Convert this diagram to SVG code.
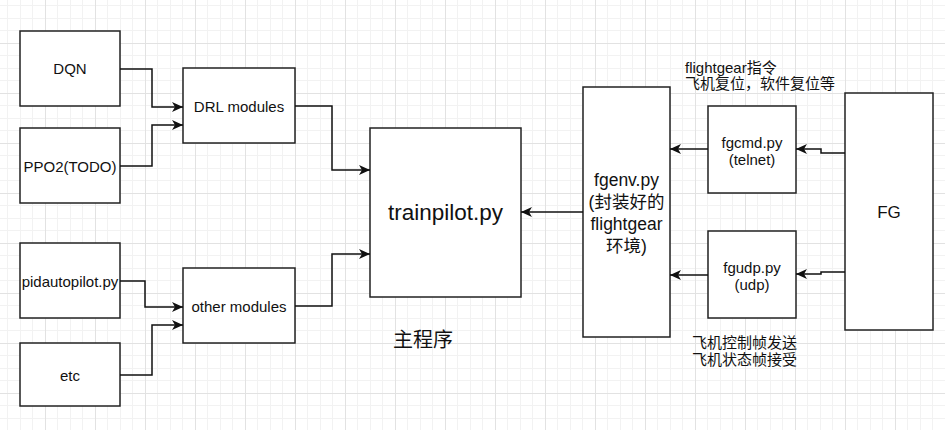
<svg xmlns="http://www.w3.org/2000/svg" width="945" height="430" viewBox="0 0 945 430">
<defs>
<pattern id="grid" patternUnits="userSpaceOnUse" x="-5" y="-7" width="50" height="50">
<rect x="12" y="0" width="1" height="50" fill="#f2f2f2"/>
<rect x="25" y="0" width="1" height="50" fill="#f2f2f2"/>
<rect x="37" y="0" width="1" height="50" fill="#f2f2f2"/>
<rect x="0" y="12" width="50" height="1" fill="#f2f2f2"/>
<rect x="0" y="25" width="50" height="1" fill="#f2f2f2"/>
<rect x="0" y="37" width="50" height="1" fill="#f2f2f2"/>
<rect x="0" y="0" width="1" height="50" fill="#e2e2e2"/>
<rect x="0" y="0" width="50" height="1" fill="#e2e2e2"/>
</pattern>
<marker id="arr" markerUnits="userSpaceOnUse" markerWidth="12" markerHeight="12" viewBox="-12 -6 12 12" refX="0" refY="0" orient="auto">
<path d="M0,0 L-11,-5 L-8,0 L-11,5 Z" fill="#111"/>
</marker>
</defs>
<style>
.box{fill:#fff;stroke:#222;stroke-width:1.5}
.t{font-family:"Liberation Sans",Arial,"Noto Sans CJK SC",sans-serif;fill:#111;text-anchor:middle;dominant-baseline:central}
.c{fill:none;stroke:#111;stroke-width:1.5;marker-end:url(#arr)}
.lab{font-family:"Liberation Sans",Arial,"Noto Sans CJK SC",sans-serif;fill:#111;font-size:15px}
</style>
<rect width="945" height="430" fill="#fff"/>
<rect width="945" height="430" fill="url(#grid)"/>

<g id="dqn"><rect class="box" x="20" y="31" width="100" height="75"/><text class="t" x="70" y="68.5" font-size="15">DQN</text></g>
<g id="ppo2"><rect class="box" x="20" y="128" width="100" height="75"/><text class="t" x="70" y="166" font-size="15">PPO2(TODO)</text></g>
<g id="drl"><rect class="box" x="183" y="68" width="112" height="75"/><text class="t" x="239" y="106" font-size="15">DRL modules</text></g>
<g id="pid"><rect class="box" x="20" y="243" width="100" height="75"/><text class="t" x="70" y="281" font-size="15">pidautopilot.py</text></g>
<g id="etc"><rect class="box" x="20" y="343" width="100" height="63"/><text class="t" x="70" y="375" font-size="15">etc</text></g>
<g id="other"><rect class="box" x="183" y="268" width="112" height="75"/><text class="t" x="239" y="306" font-size="15">other modules</text></g>
<g id="trainpilot"><rect class="box" x="370" y="128" width="151" height="169"/><text class="t" x="445.5" y="212" font-size="22.5">trainpilot.py</text></g>
<g id="main-label"><text class="t" x="423" y="340" font-size="20">主程序</text></g>
<g id="fgenv"><rect class="box" x="583" y="87" width="87" height="250"/>
<text class="t" x="626.5" y="180" font-size="17.5">fgenv.py</text>
<text class="t" x="626.5" y="202" font-size="17.5">(封装好的</text>
<text class="t" x="626.5" y="224" font-size="17.5">flightgear</text>
<text class="t" x="626.5" y="246" font-size="17.5">环境)</text></g>
<g id="fgcmd"><rect class="box" x="708" y="106" width="88" height="87"/>
<text class="t" x="752" y="142" font-size="15">fgcmd.py</text>
<text class="t" x="752" y="159" font-size="15">(telnet)</text></g>
<g id="fgudp"><rect class="box" x="708" y="231" width="88" height="87"/>
<text class="t" x="752" y="267" font-size="15">fgudp.py</text>
<text class="t" x="752" y="284" font-size="15">(udp)</text></g>
<g id="fg"><rect class="box" x="845" y="93" width="88" height="237"/><text class="t" x="889" y="212" font-size="17">FG</text></g>
<g id="cmd-label"><text class="lab" x="685" y="73">flightgear指令</text><text class="lab" x="685" y="89">飞机复位，软件复位等</text></g>
<g id="udp-label"><text class="lab" x="692" y="348">飞机控制帧发送</text><text class="lab" x="692" y="365">飞机状态帧接受</text></g>

<g id="connectors">
<path class="c" d="M120,69 H152 V107 H183"/>
<path class="c" d="M120,166 H152 V125 H183"/>
<path class="c" d="M120,281 H145 V307 H183"/>
<path class="c" d="M120,375 H152 V325 H183"/>
<path class="c" d="M295,106 H332 V170 H370"/>
<path class="c" d="M295,306 H332 V254 H370"/>
<path class="c" d="M583,212 H521"/>
<path class="c" d="M708,149 H670"/>
<path class="c" d="M708,275 H670"/>
<path class="c" d="M845,153 H821 V149 H796"/>
<path class="c" d="M845,272 H821 V274 H796"/>
</g>
</svg>
